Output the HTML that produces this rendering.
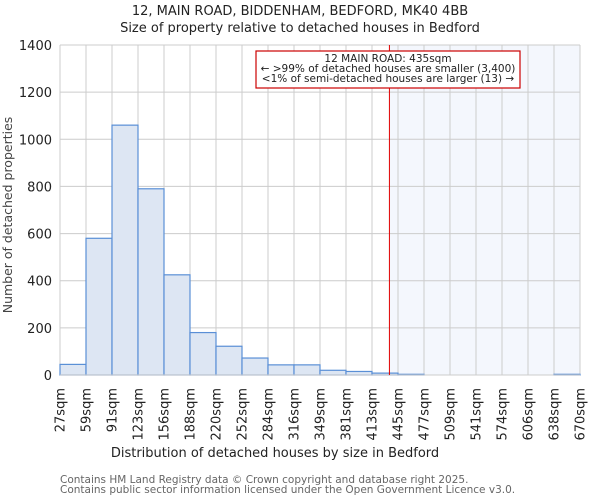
<!DOCTYPE html>
<html><head><meta charset="utf-8"><style>body{margin:0;background:#fff}svg{display:block;font-family:"DejaVu Sans","Liberation Sans",sans-serif}</style></head>
<body>
<svg id="chart" width="600" height="500">
<text x="300" y="15" text-anchor="middle" font-size="13" fill="#222">12, MAIN ROAD, BIDDENHAM, BEDFORD, MK40 4BB</text>
<text x="300" y="32" text-anchor="middle" font-size="13" fill="#222">Size of property relative to detached houses in Bedford</text>
<g id="plot"></g>
<text x="275" y="457" text-anchor="middle" font-size="13" fill="#222">Distribution of detached houses by size in Bedford</text>
<text transform="translate(12,215) rotate(-90)" text-anchor="middle" font-size="12.5" fill="#444">Number of detached properties</text>
<text x="60" y="483" font-size="10.5" fill="#666">Contains HM Land Registry data © Crown copyright and database right 2025.</text>
<text x="60" y="493" font-size="10.5" fill="#666">Contains public sector information licensed under the Open Government Licence v3.0.</text>
</svg>
<script>
const binLabels=["27sqm","59sqm","91sqm","123sqm","156sqm","188sqm","220sqm","252sqm","284sqm","316sqm","349sqm","381sqm","413sqm","445sqm","477sqm","509sqm","541sqm","574sqm","606sqm","638sqm","670sqm"];
const counts=[45,580,1060,790,425,180,122,72,43,43,20,15,8,3,0,0,0,0,0,3];
const yTicks=[0,200,400,600,800,1000,1200,1400];
const markerBin=12.67;
const L=60,R=580,T=45,B=375,yMax=1400;
const ns="http://www.w3.org/2000/svg";
const g=document.getElementById('plot');
const bw=(R-L)/counts.length;
const xs=i=>L+i*bw;
const ys=v=>B-v/yMax*(B-T);
function mk(t,a,p){const e=document.createElementNS(ns,t);for(const k in a)e.setAttribute(k,a[k]);(p||g).appendChild(e);return e;}
const mx=xs(markerBin);
const sh=mk('rect',{x:mx,y:T,width:R-mx,height:B-T,fill:'#f4f7fd'});


yTicks.forEach(v=>{const l=mk('line',{x1:L,x2:R,y1:ys(v),y2:ys(v),stroke:'#ccc','stroke-width':1});


const t=mk('text',{x:L-8,y:ys(v)+5,'text-anchor':'end','font-size':13,fill:'#222'});t.textContent=v;

});
binLabels.forEach((s,i)=>{const l=mk('line',{x1:xs(i),x2:xs(i),y1:T,y2:B,stroke:'#ccc','stroke-width':1});


const t=mk('text',{transform:`translate(${xs(i)+4.5},${B+13}) rotate(-90)`,'text-anchor':'end','font-size':13,fill:'#222'});t.textContent=s;

});
counts.forEach((c,i)=>{if(c<=0)return;const r=mk('rect',{x:xs(i),y:ys(c),width:bw,height:B-ys(c),fill:'#dde6f3',stroke:'#5a8fd6','stroke-width':1.2});

});
const ax=mk('line',{x1:L,x2:R,y1:B,y2:B,stroke:'#ccc','stroke-width':1});


const ml=mk('line',{x1:mx,x2:mx,y1:T,y2:B,stroke:'#e00000','stroke-width':1});


const box=mk('rect',{x:256,y:51,width:264,height:37,fill:'#fff',stroke:'#cc0000','stroke-width':1.2});


["12 MAIN ROAD: 435sqm","← >99% of detached houses are smaller (3,400)","<1% of semi-detached houses are larger (13) →"].forEach((s,i)=>{const t=mk('text',{x:388,y:62+i*10,'text-anchor':'middle','font-size':10.5,fill:'#222'});t.textContent=s;

});
</script>
</body></html>
